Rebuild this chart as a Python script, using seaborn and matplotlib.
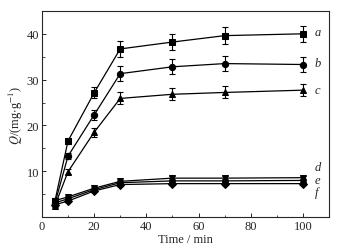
import matplotlib
matplotlib.use("Agg")
import matplotlib.pyplot as plt
import seaborn as sns
import pandas as pd
import numpy as np

time = [5, 10, 20, 30, 50, 70, 100]
a = [3.5, 16.6, 27.1, 36.7, 38.2, 39.6, 40.0]
b = [3.0, 13.3, 22.3, 31.3, 32.8, 33.5, 33.3]
c = [2.5, 9.9, 18.5, 25.9, 26.8, 27.2, 27.7]
d = [3.6, 4.4, 6.3, 7.8, 8.5, 8.5, 8.6]
e = [3.1, 4.0, 6.0, 7.5, 7.9, 7.9, 8.0]
f = [2.7, 3.5, 5.7, 7.1, 7.3, 7.3, 7.3]
err_a = [0.6, 0.7, 1.2, 1.8, 1.8, 1.8, 1.8]
err_b = [0.5, 0.6, 1.1, 1.6, 1.6, 1.6, 1.6]
err_c = [0.4, 0.5, 1.0, 1.3, 1.3, 1.3, 1.3]
err_low = [0.3, 0.3, 0.3, 0.4, 0.4, 0.4, 0.4]
labels = ["a", "b", "c", "d", "e", "f"]
markers = ["s", "o", "^", "v", "o", "D"]

series = [a, b, c, d, e, f]
errs = [err_a, err_b, err_c, err_low, err_low, err_low]

rows = []
for lab, vals in zip(labels, series):
    for t, v in zip(time, vals):
        rows.append({"time": t, "Q": v, "s": lab})
df = pd.DataFrame(rows)

sns.set_style("ticks")
plt.rcParams["font.family"] = ["Liberation Serif", "DejaVu Serif"]
plt.rcParams["mathtext.fontset"] = "stix"

fig = plt.figure(figsize=(3.49, 2.53), dpi=100)
ax = fig.add_axes([0.12, 0.138, 0.823, 0.815])

sizes = [4.2, 4.5, 4.5, 4.5, 4.0, 3.8]
for lab, vals, er, m, ms in zip(labels, series, errs, markers, sizes):
    sub = df[df.s == lab]
    sns.lineplot(data=sub, x="time", y="Q", ax=ax, color="black", lw=0.9,
                 marker=m, markersize=ms, markeredgecolor="black", legend=False)
    ax.errorbar(time, vals, yerr=er, fmt="none", ecolor="black", elinewidth=0.8,
                capsize=2.2, capthick=0.8)

label_y = [40.4, 33.6, 27.8, 10.9, 8.1, 5.5]
for lab, yy in zip(labels, label_y):
    ax.text(104.5, yy, lab, fontsize=9, style="italic", va="center", ha="left")

ax.set_xlim(0, 110)
ax.set_ylim(0, 45)
ax.set_xticks([0, 20, 40, 60, 80, 100])
ax.set_xticks([10, 30, 50, 70, 90], minor=True)
ax.set_yticks([10, 20, 30, 40])
ax.set_yticks([5, 15, 25, 35], minor=True)
ax.tick_params(direction="in", length=3, width=0.7, labelsize=9, pad=2)
ax.tick_params(which="minor", direction="in", length=1.8, width=0.6)
for sp in ax.spines.values():
    sp.set_linewidth(0.8)
ax.set_xlabel("Time / min", fontsize=9, labelpad=1)
ax.set_ylabel(r"$Q$/(mg$\cdot$g$^{-1}$)", fontsize=9, labelpad=1)

fig.savefig("out.png", dpi=100)
